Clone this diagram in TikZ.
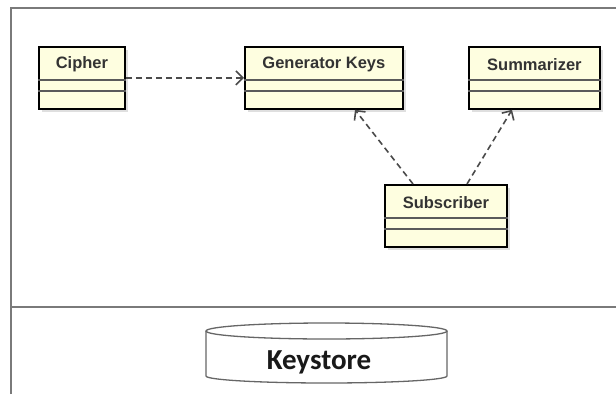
\documentclass[tikz,border=0pt]{standalone}
\usepackage{fontspec}
\setmainfont{Liberation Sans}
\newfontfamily\storefont{Carlito}
\usetikzlibrary{arrows.meta,shadows}

\definecolor{classfill}{HTML}{FEFEE0}
\definecolor{framegray}{HTML}{7A7A7A}
\definecolor{sepgray}{HTML}{5A5A5A}
\definecolor{titlegray}{HTML}{333333}
\definecolor{depgray}{HTML}{4A4A4A}

\tikzset{
  classbox/.style={draw=black, line width=1.8pt, fill=classfill,
    anchor=north west, minimum height=62pt, inner sep=0pt,
    drop shadow={shadow xshift=3pt, shadow yshift=-3pt, fill=black!25, opacity=0.5}},
  classname/.style={font=\fontsize{16.5}{19}\selectfont\bfseries, text=titlegray, inner sep=0pt},
  compsep/.style={draw=sepgray, line width=1.2pt},
  depend/.style={draw=depgray, line width=1.6pt, dash pattern=on 6pt off 4pt,
    -{Straight Barb[length=7pt,width=14pt,line width=1.6pt]}},
  framerule/.style={draw=framegray, line width=1.5pt},
  storeline/.style={draw=black!60, line width=1.3pt}
}

% a class box with two empty compartments under the name
\newcommand\umlclass[5]{%
  \node[classbox, minimum width=#4] (#1) at (#2,#3) {};
  \node[classname] (#1-name) at ([yshift=-18.5pt]#1.north) {#5};
  \draw[compsep] ([yshift=-34pt]#1.north west) -- ([yshift=-34pt]#1.north east);
  \draw[compsep] ([yshift=-45pt]#1.north west) -- ([yshift=-45pt]#1.north east);
}

\begin{document}
\begin{tikzpicture}[x=1pt,y=-1pt]
  \useasboundingbox (0,0) rectangle (616,394);

  % outer frame and the rule above the storage layer
  \draw[framerule] (11,394) -- (11,8) -- (616,8);
  \draw[framerule] (11,307) -- (616,307);

  % classes
  \umlclass{cipher}{38}{46}{86pt}{Cipher}
  \umlclass{genkeys}{244}{46}{158pt}{Generator Keys}
  \umlclass{summarizer}{468}{46}{131pt}{Summarizer}
  \umlclass{subscriber}{384}{184}{122pt}{Subscriber}

  % dependencies
  \draw[depend] (cipher.east) -- (genkeys.west);
  \draw[depend] ([xshift=29pt]subscriber.north west) -- ([xshift=111pt]genkeys.south west);
  \draw[depend] ([xshift=83pt]subscriber.north west) -- ([xshift=44pt]summarizer.south west);

  % keystore drum
  \draw[storeline, fill=white]
    (206,331) -- (206,376) arc[start angle=180, end angle=0, x radius=120.5, y radius=7]
    -- (447,331);
  \draw[storeline, fill=white] (326.5,331) ellipse[x radius=120.5, y radius=8];
  \node[font=\storefont\bfseries\fontsize{29}{33}\selectfont, text=black!90, inner sep=0pt]
    (keystore) at (319,362) {Keystore};
\end{tikzpicture}
\end{document}
